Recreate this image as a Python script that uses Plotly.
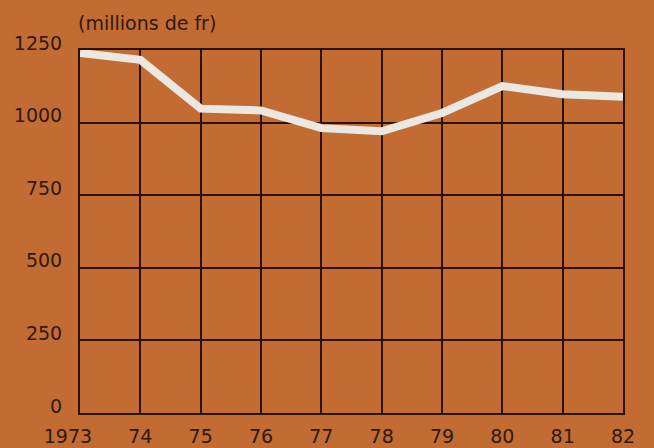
import plotly.graph_objects as go

# Annual values, millions de francs
years = [1973, 1974, 1975, 1976, 1977, 1978, 1979, 1980, 1981, 1982]
values = [1240, 1216, 1048, 1042, 981, 970, 1033, 1126, 1098, 1089]
x_tick_labels = ["1973\u00a0\u00a0\u00a0\u00a0", "74", "75", "76", "77", "78", "79", "80", "81", "82"]
y_ticks = [0, 250, 500, 750, 1000, 1250]

BG = "#c26b33"
INK = "#2e1a0e"
GRID = "#2a1306"
LINE = "#ebe7e1"

fig = go.Figure()
fig.add_trace(go.Scatter(
    x=years, y=values, mode="lines",
    line=dict(color=LINE, width=8),
    cliponaxis=False, hoverinfo="skip",
))

fig.update_layout(
    width=654, height=448,
    margin=dict(l=80, r=31, t=50, b=35, autoexpand=False),
    paper_bgcolor=BG, plot_bgcolor=BG,
    showlegend=False,
    font=dict(family="DejaVu Sans, Liberation Sans, sans-serif", color=INK, size=19),
    xaxis=dict(
        range=[1973, 1982], tickmode="array", tickvals=years, ticktext=x_tick_labels,
        showgrid=True, gridcolor=GRID, gridwidth=2,
        showline=True, linecolor=GRID, linewidth=2, mirror=True,
        zeroline=False, ticks="", ticklabelstandoff=5, automargin=False,
    ),
    yaxis=dict(
        range=[0, 1250], tickmode="array", tickvals=y_ticks,
        showgrid=True, gridcolor=GRID, gridwidth=2,
        showline=True, linecolor=GRID, linewidth=2, mirror=True,
        zeroline=False, ticks="", ticklabelshift=-7,
        ticklabelstandoff=12, automargin=False,
    ),
    annotations=[dict(
        text="(millions de fr)", xref="paper", yref="paper",
        x=0, y=1, xanchor="left", yanchor="bottom", yshift=14, xshift=-4,
        showarrow=False, font=dict(size=19, color=INK),
    )],
)

fig.write_html("out.html")
